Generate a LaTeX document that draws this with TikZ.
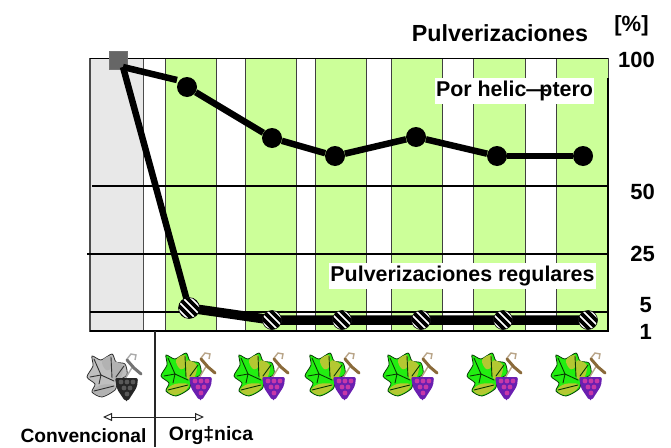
\documentclass[tikz,border=0pt]{standalone}
\usepackage{fontspec}
\setmainfont{Liberation Sans}
\usetikzlibrary{arrows.meta}
\definecolor{barGreen}{HTML}{CCFF99}
\definecolor{barGray}{HTML}{E8E8E8}
\definecolor{brightLeaf}{HTML}{22EE11}
\definecolor{oliveLeaf}{HTML}{B4C832}
\definecolor{grapeViolet}{HTML}{6A1FB0}
\definecolor{grapeCore}{HTML}{C838A8}
\definecolor{stemBrown}{HTML}{8A6A3A}
\definecolor{grayLeafA}{HTML}{BFBFBF}
\definecolor{grayLeafB}{HTML}{B2B2B2}
\definecolor{grayGrape}{HTML}{262626}
\definecolor{grayCore}{HTML}{595959}
\definecolor{grayStem}{HTML}{737373}
\newcommand{\fs}[1]{\fontsize{#1}{#1}\selectfont\bfseries}
\tikzset{
  x=1pt,y=-1pt,
  greenbar/.style={fill=barGreen,draw=black!75,line width=1pt},
  graybar/.style={fill=barGray,draw=black!70,line width=1.1pt},
  gridline/.style={draw=black,line width=1.2pt},
  dataline/.style={draw=black,line width=6.5pt},
  reglineb/.style={draw=black,line width=9.5pt},
  helidot/.style={circle,fill=black,inner sep=0pt,minimum size=20pt},
  hatchdot/.style={circle,fill=white,draw=black,line width=.6pt,inner sep=0pt,minimum size=#1,
    path picture={\foreach \d in {-16,-8,0,8,16}{
      \draw[black,line width=3.6pt] (path picture bounding box.center) ++({\d-14},-14) -- ++(28,28);}}},
  hatchdot/.default=19pt,
  axislabel/.style={font=\fs{22},inner sep=0pt,anchor=east},
  serieslabel/.style={fill=white,inner sep=0pt,font=\fs{21.4},text height=15pt,text depth=5pt},
  pics/vine/.style n args={5}{code={
    \draw[fill=#1,draw=black!75!#1,line width=.8pt] plot[smooth cycle,tension=.45] coordinates
      {(0,24)(6,13)(5,3)(14,7)(25,1)(29,9)(38,11)(40,22)(31,28)(28,37)(15,44)(5,39)(8,31)};
    \fill[#2] plot[smooth cycle,tension=.6] coordinates {(25,10)(30,9)(36,14)(33,26)(26,26)};
    \fill[#2] plot[smooth cycle,tension=.6] coordinates {(6,38)(14,32)(27,32)(25,38)(14,43)};
    \fill[#2] plot[smooth cycle,tension=.6] coordinates {(15,8)(24,3)(25,14)(19,17)};
    \draw[black!75!#1,line width=.9pt,line cap=round] (3,24)--(14,22)--(27,28) (7,6)--(14,22) (24,4)--(25,25) (14,22)--(12,31) (7,38)--(27,33) (37,13)--(29,24);
    \draw[#5!60,line width=1.4pt] (40,6)--(44,1)--(49,2)--(48,7) (38,26)--(46,13);
    \draw[#5,line width=3pt,line cap=round] (40,7)--(47,15)--(54,21);
    \fill[#3,rounded corners=2pt] (28,25)--(51,25)--(50,34)--(41,48)--(38,48)--(30,36)--cycle;
    \foreach \p/\q in {34/29,40/29,46/29,37/35,43/35,40/41}{\fill[#4] (\p,\q) circle (2.4pt);}
  }}
}
\begin{document}
\begin{tikzpicture}
\useasboundingbox (0,0) rectangle (671,447);
% bars
\path[graybar] (90,58.5) rectangle (143.5,331);
\foreach \a/\b in {165/216.5,245.5/296.5,315.5/366,391/442,473.5/525,556.5/608}{
  \path[greenbar] (\a,58.5) rectangle (\b,331);}
% grid
\draw[gridline] (90,58.5) -- (608,58.5);
\draw[gridline] (92,186) -- (608,186);
\draw[gridline] (87,254) -- (608,254);
\draw[gridline] (90,312) -- (608,312);
\draw[black,line width=1.4pt] (90,331) -- (608,331);
\draw[black,line width=1.8pt] (608,78) -- (608,331.5);
% series labels
\node[serieslabel,minimum width=159pt,minimum height=26pt] (helilabel) at (514.5,91)
  {Por helic—\kern-.389em ptero};
\node[serieslabel,minimum width=267pt,minimum height=26pt] (reglabel) at (462.5,276)
  {Pulverizaciones regulares};
% start
\node[draw=black!55,fill=black!60,line width=1pt,minimum size=18pt,inner sep=0pt] (start) at (118.5,60) {};
\coordinate (startline) at (123,67);
\coordinate (gapend) at (177,80);
% helicopter series
\foreach \n/\x/\y in {h1/187/87,h2/272/138,h3/335/156,h4/416/137,h5/497/156,h6/583/156}{
  \node[helidot] (\n) at (\x,\y) {};}
\draw[dataline] (startline) -- (gapend);
\draw[dataline] (h1) -- (h2);
\draw[dataline] (h2) -- (h3);
\draw[dataline] (h3) -- (h4);
\draw[dataline] (h4) -- (h5);
\draw[dataline] (h5) -- (h6);
% regular series
\coordinate (r1a) at (189,308);
\draw[dataline] (startline) -- (r1a);
\coordinate (r2a) at (272,320);
\draw[reglineb] (r1a) -- (r2a) -- (588,320);
\node[hatchdot=21pt] (r1) at (189,308) {};
\foreach \n/\x in {r2/272,r3/342,r4/421,r5/503,r6/588}{
  \node[hatchdot] (\n) at (\x,320) {};}
% header and axis
\node[font=\fs{23.3},inner sep=0pt] (title) at (500,33) {Pulverizaciones};
\node[font=\fs{22},inner sep=0pt] (unit) at (631.5,26) {[\%]};
\node[axislabel] (a100) at (655,60) {100};
\node[axislabel] (a50) at (655,192) {50};
\node[axislabel] (a25) at (655,254) {25};
\node[axislabel] (a5) at (652,305) {5};
\node[axislabel] (a1) at (652,332) {1};
% icons
\pic at (87,353) {vine={grayLeafA}{grayLeafB}{grayGrape}{grayCore}{grayStem}};
\foreach \x in {161,234,305,383,467,551}{
  \pic at (\x,352) {vine={brightLeaf}{oliveLeaf}{grapeViolet}{grapeCore}{stemBrown}};}
% bottom
\coordinate (divtop) at (155,331);
\coordinate (divbot) at (155,447);
\draw[black!85,line width=1.1pt] (divtop) -- (divbot);
\coordinate (arrowl) at (103,417);
\coordinate (arrowr) at (204,417);
\draw[black!85,line width=1pt,{Triangle[open,length=9pt,width=8pt]}-{Triangle[open,length=9pt,width=8pt]}] (arrowl) -- (arrowr);
\node[font=\fs{19.2},inner sep=0pt] (conv) at (83.5,436) {Convencional};
\node[font=\fs{19.4},inner sep=0pt] (org) at (211,436) {Org‡nica};
\end{tikzpicture}
\end{document}
